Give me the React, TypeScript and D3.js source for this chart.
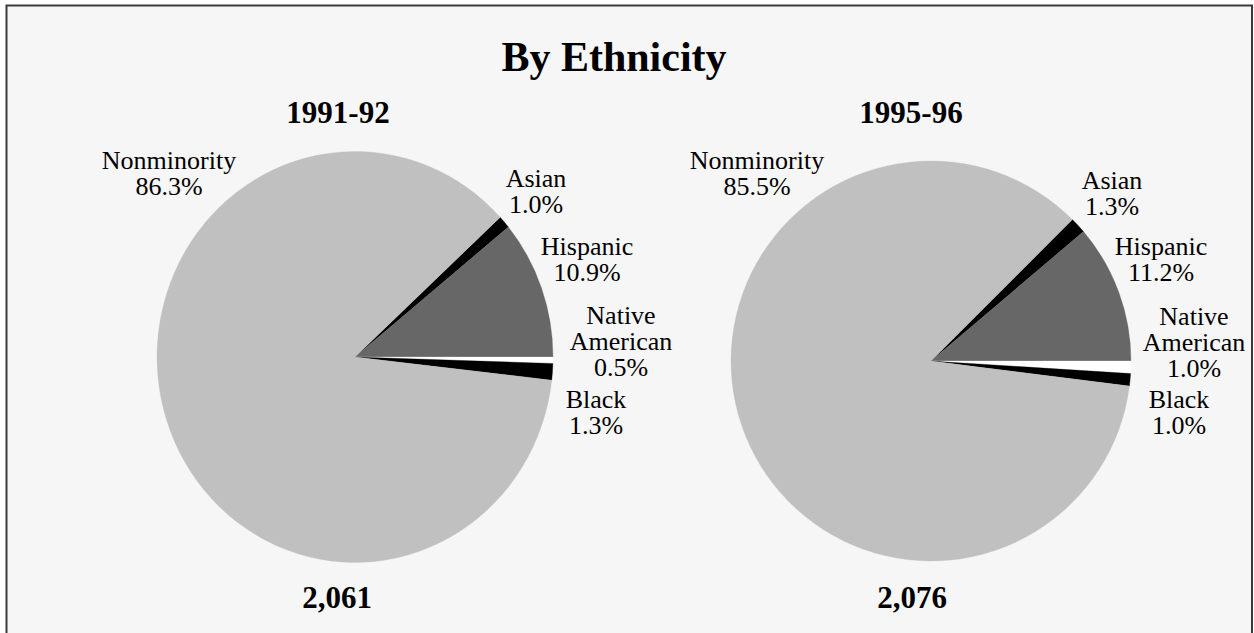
import React from "react";
import * as d3 from "d3";

const categories = ["Asian", "Hispanic", "Native American", "Black", "Nonminority"];
const values1991 = [1.0, 10.9, 0.5, 1.3, 86.3];
const values1995 = [1.3, 11.2, 1.0, 1.0, 85.5];
const years = ["1991-92", "1995-96"];
const totals = ["2,061", "2,076"];
const title = "By Ethnicity";

const colors: Record<string, string> = {
  Asian: "#000000",
  Hispanic: "#676767",
  "Native American": "#ffffff",
  Black: "#000000",
  Nonminority: "#c0c0c0",
};

// layout of each pie: center, radii, header positions, label anchors (center x, first baseline)
const pieLayouts = [
  {
    cx: 355, cy: 357, rx: 198, ry: 205.5,
    yearX: 338, totalX: 337,
    labels: {
      Nonminority: [169, 169],
      Asian: [536, 187],
      Hispanic: [587, 255],
      "Native American": [621, 324],
      Black: [596, 408],
    } as Record<string, number[]>,
  },
  {
    cx: 931, cy: 361, rx: 200, ry: 200,
    yearX: 911, totalX: 912,
    labels: {
      Nonminority: [757, 169],
      Asian: [1112, 189],
      Hispanic: [1161, 255],
      "Native American": [1194, 325],
      Black: [1179, 408],
    } as Record<string, number[]>,
  },
];

const seriesList = [values1991, values1995];

function labelLines(cat: string): string[] {
  return cat === "Native American" ? ["Native", "American"] : [cat];
}

function Pie({ values, layout, year, total }: any) {
  const data = categories.map((c, i) => ({ cat: c, value: values[i] }));
  const sum = d3.sum(values);
  const start = Math.PI / 2 - (2 * Math.PI * (values[0] + values[1])) / sum;
  const pie = d3
    .pie<any>()
    .sort(null)
    .value((d) => d.value)
    .startAngle(start)
    .endAngle(start + 2 * Math.PI);
  const arcs = pie(data);
  const arc = d3.arc<any>().innerRadius(0).outerRadius(layout.rx);
  const fmt = d3.format(".1f");
  const lh = 26;
  return (
    <g>
      <text x={layout.yearX} y={123} textAnchor="middle" fontSize={31} fontWeight="bold">
        {year}
      </text>
      <g transform={`translate(${layout.cx},${layout.cy}) scale(1,${layout.ry / layout.rx})`}>
        {arcs.map((a, i) => (
          <path key={i} d={arc(a) as string} fill={colors[a.data.cat]} stroke={colors[a.data.cat]} strokeWidth={0.3} />
        ))}
      </g>
      {arcs.map((a, i) => {
        const pos = layout.labels[a.data.cat];
        const lines = [...labelLines(a.data.cat), fmt(a.data.value) + "%"];
        return (
          <text key={"l" + i} x={pos[0]} y={pos[1]} textAnchor="middle" fontSize={26}>
            {lines.map((ln, j) => (
              <tspan key={j} x={pos[0]} y={pos[1] + j * lh}>
                {ln}
              </tspan>
            ))}
          </text>
        );
      })}
      <text x={layout.totalX} y={608} textAnchor="middle" fontSize={31} fontWeight="bold">
        {total}
      </text>
    </g>
  );
}

export default function App() {
  const W = 1254;
  const H = 633;
  return (
    <svg
      width={W}
      height={H}
      style={{ position: "absolute", left: 0, top: 0, display: "block" }}
      fontFamily="'Liberation Serif', 'Times New Roman', serif"
    >
      <rect x={0} y={0} width={W} height={H} fill="#ffffff" />
      <rect x={6.5} y={5.5} width={1245.5} height={H + 20} fill="#f6f6f6" stroke="#3a3a3a" strokeWidth={2} />
      <text x={614} y={71} textAnchor="middle" fontSize={42} fontWeight="bold">
        {title}
      </text>
      {seriesList.map((vals, i) => (
        <Pie key={i} values={vals} layout={pieLayouts[i]} year={years[i]} total={totals[i]} />
      ))}
    </svg>
  );
}
